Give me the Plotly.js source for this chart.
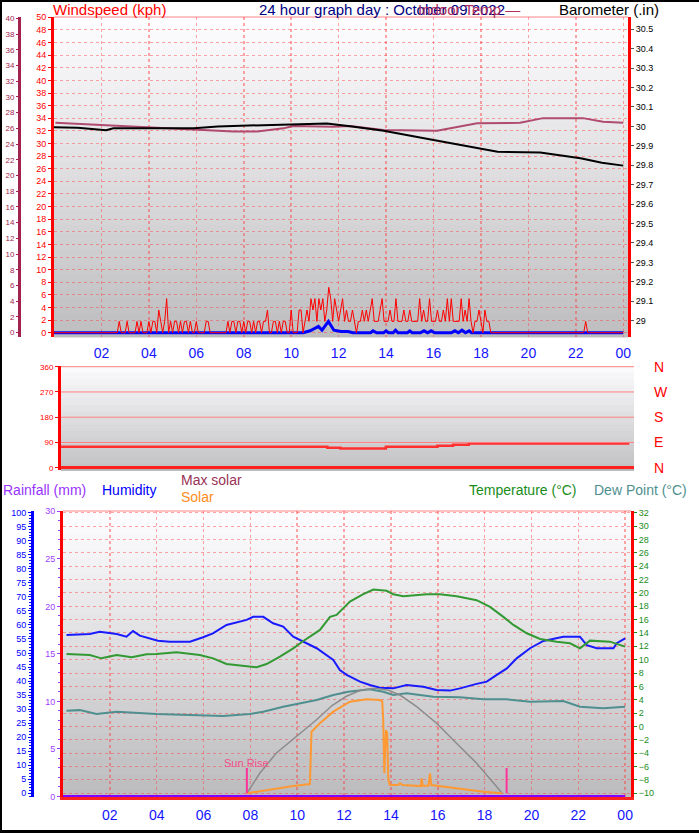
<!DOCTYPE html>
<html><head><meta charset="utf-8">
<script src="https://cdn.plot.ly/plotly-3.0.1.min.js"></script>
<style>html,body{margin:0;padding:0;background:#fff;} #chart{width:699px;height:833px;}</style>
</head><body><div id="chart"></div>
<script>
// ---------------- DATA ----------------
const hourTicks = [2,4,6,8,10,12,14,16,18,20,22,24];
const hourTickText = ['02','04','06','08','10','12','14','16','18','20','22','00'];

// Barometer (inHg)
const baroHours  = [0, 1, 2.2, 2.5, 4, 5.9, 6.9, 8.3, 9.7, 11.5, 12.4, 13.9, 16.0, 18.0, 18.7, 20.5, 22.2, 23.1, 24];
const baroValues = [29.995, 29.993, 29.98, 29.99, 29.99, 29.99, 30.0, 30.005, 30.012, 30.015, 30.002, 29.977, 29.93, 29.887, 29.87, 29.865, 29.836, 29.813, 29.798];

// Indoor temperature (outer left axis)
const indoorHours = [0.06, 1.12, 2.38, 5.62, 7.56, 8.57, 9.67, 10.09, 11.77, 12.49, 13.88, 16.15, 16.7, 17.84, 19.65, 20.62, 22.3, 23.15, 24];
const indoorTemp  = [26.7, 26.55, 26.3, 25.9, 25.6, 25.6, 26.0, 26.3, 26.2, 26.3, 25.8, 25.7, 26.0, 26.65, 26.7, 27.3, 27.3, 26.85, 26.7];

// Wind gust (kph), one value per 5 minutes from 00:00
const gustValues = [
  0,0,0,0,0,0,0,0,0,0,0,0,                        // 00h
  0,0,0,0,0,0,0,0,0,0,0,0,                        // 01h
  0,0,0,0,0,0,0,0,0,1.8,0,0,                      // 02h
  0,1.8,0,0,0,0,1.8,0,1.8,0,0,0,                  // 03h
  1.8,0,1.8,1.8,0,3.6,1.8,0,1.8,5.4,0,1.8,        // 04h
  0,1.8,1.8,0,1.8,0,1.8,1.8,0,1.8,0,0,            // 05h
  1.8,0,0,0,0,1.8,1.8,0,0,0,0,0,                  // 06h
  0,0,0,0,1.8,0,1.8,1.8,0,1.8,1.8,0,              // 07h
  1.8,0,1.8,1.8,0,1.8,0,1.8,1.8,0,1.8,1.8,        // 08h
  3.6,0,0,1.8,1.8,0,1.8,0,1.8,1.8,0,0,            // 09h
  3.6,0,0,0,3.6,3.6,0,1.8,3.6,1.8,5.4,3.6,        // 10h
  5.4,1.8,5.4,3.6,5.4,1.8,3.6,7.2,5.4,1.8,5.4,3.6,// 11h
  1.8,3.6,5.4,1.8,3.6,1.8,1.8,3.6,1.8,0,1.8,1.8,  // 12h
  3.6,1.8,3.6,1.8,3.6,5.4,1.8,1.8,1.8,3.6,5.4,1.8,// 13h
  1.8,1.8,3.6,1.8,1.8,5.4,1.8,1.8,1.8,3.6,1.8,1.8,// 14h
  3.6,1.8,1.8,1.8,1.8,5.4,1.8,3.6,1.8,1.8,5.4,1.8,// 15h
  1.8,1.8,3.6,1.8,1.8,3.6,1.8,5.4,1.8,5.4,1.8,1.8,// 16h
  1.8,1.8,5.4,1.8,3.6,1.8,5.4,1.8,0,1.8,1.8,3.6,  // 17h
  1.8,0,3.6,1.8,1.8,0,0,0,0,0,0,0,                // 18h
  0,0,0,0,0,0,0,0,0,0,0,0,                        // 19h
  0,0,0,0,0,0,0,0,0,0,0,0,                        // 20h
  0,0,0,0,0,0,0,0,0,0,0,0,                        // 21h
  0,0,0,0,0,1.8,0,0,0,0,0,0,                      // 22h
  0,0,0,0,0,0,0,0,0,0,0,0,                        // 23h
  0                                               // 24h
];
const gustHours = gustValues.map((v, i) => i / 12);

// Average wind speed (kph)
const avgHours  = [0, 10.5, 10.8, 11.15, 11.3, 11.57, 11.8, 12.1, 12.4, 12.6, 13.35, 13.45, 13.6, 13.9, 14.0, 14.1, 14.3, 14.4, 14.5, 14.9, 15.0, 15.1, 15.45, 15.6, 15.75, 15.9, 16.05, 16.75, 16.9, 17.05, 17.2, 17.35, 17.5, 17.6, 24];
const avgValues = [0, 0, 0.3, 1.0, 0.4, 1.8, 0.4, 0.2, 0.2, 0, 0, 0.3, 0, 0, 0.3, 0, 0, 0.4, 0, 0, 0.3, 0, 0, 0.3, 0, 0.3, 0, 0, 0.3, 0, 0.4, 0, 0.3, 0, 0];

// Wind direction (degrees)
const dirHours   = [0, 11.25, 11.8, 13.72, 15.9, 16.56, 17.22, 24];
const dirDegrees = [75, 71, 68, 75, 78, 82, 86, 86];
const compassVals = [0, 90, 180, 270, 360];
const compassText = ['N', 'E', 'S', 'W', 'N'];

// Humidity (%)
const humHours  = [0.15,1.14,1.57,2.29,2.71,2.99,3.28,4.05,4.56,5.42,5.98,6.4,6.98,7.41,7.84,8.12,8.55,8.97,9.4,9.83,10.26,10.83,11.54,11.82,12.11,12.25,12.68,13.1,13.53,14.1,14.67,15.38,15.95,16.52,16.95,17.66,18.09,18.52,18.95,19.37,19.94,20.51,21.36,22.07,22.36,22.79,23.5,23.64,24.0];
const humValues = [56.4,56.8,57.6,56.8,55.8,57.8,56.2,54.4,54.0,54.0,55.6,57.0,60.0,60.8,61.8,62.9,62.9,60.6,59.4,55.8,54.0,51.7,47.5,43.9,42.2,41.6,39.8,38.6,37.6,37.4,38.6,38.0,36.8,36.6,37.4,39.0,39.8,42.2,44.5,48.1,51.7,54.3,55.8,55.8,52.8,51.7,51.7,53.5,55.2];

// Temperature (°C)
const tempHours  = [0.15,1.14,1.64,2.29,2.93,3.57,3.99,4.85,5.84,6.41,6.98,7.84,8.27,8.69,9.26,9.83,10.26,10.97,11.4,11.68,12.25,12.82,13.25,13.82,14.1,14.53,15.53,16.09,16.81,17.66,18.23,18.8,19.23,19.8,20.37,21.08,21.65,22.07,22.5,23.35,24.0];
const tempValues = [10.85,10.7,10.2,10.7,10.36,10.8,10.85,11.1,10.7,10.2,9.35,9.05,8.86,9.35,10.45,11.7,12.8,14.45,16.4,16.7,18.7,19.8,20.5,20.3,19.8,19.5,19.8,19.8,19.5,18.9,17.9,16.4,15.2,13.95,13.1,12.7,12.45,11.7,12.85,12.7,11.95];

// Dew point (°C)
const dewHours  = [0.15,0.72,1.43,2.29,3.99,6.13,6.84,7.98,8.55,9.4,10.12,10.83,11.54,12.18,13.1,13.67,14.1,14.67,15.81,16.95,17.95,18.95,19.94,21.36,22.07,23.07,24.0];
const dewValues = [2.36,2.45,1.87,2.2,1.87,1.72,1.57,1.87,2.2,2.96,3.47,3.96,4.71,5.2,5.57,5.2,4.71,4.97,4.46,4.37,4.07,4.07,3.71,3.81,2.96,2.72,2.96];

// Max solar and solar (W/m²)
const maxSolarHours  = [7.85,8.4,9.1,10.0,10.8,11.5,12.1,12.7,13.3,13.9,14.4,15.1,15.95,16.8,17.66,18.5,18.75];
const maxSolarValues = [0,100,200,285,365,440,485,515,525,515,490,433,350,250,150,35,0];
const solarHours  = [7.84,8.69,9.83,10.54,10.61,10.97,11.54,12.25,12.96,13.53,13.63,13.67,13.72,13.79,13.84,13.89,13.96,14.3,14.39,14.5,15.1,15.28,15.31,15.36,15.6,15.67,15.72,16.24,16.95,17.95,18.73];
const solarValues = [0,16,36,46,308,350,408,458,470,466,460,366,100,316,300,66,41,41,50,41,36,36,75,38,38,100,41,33,20,8,0];

// Rainfall (mm)
const rainHours  = [0, 24];
const rainValues = [0, 0];

// Sun rise / sun set times (hours)
const sunTimes = [7.85, 18.94];

// ---------------- LAYOUT HELPERS ----------------
const W = 699, H = 833;
const px = x => x / W;
const py = y => 1 - y / H;
const FONT = 'Liberation Sans, Arial, sans-serif';
const gridPink = 'rgba(255,60,60,0.45)';

const shapes = [];
function gradient(x0, x1, y0, y1, c0, c1, n) {
  const h = (y1 - y0) / n;
  for (let i = 0; i < n; i++) {
    const t = i / (n - 1);
    const c = Math.round(c0 + (c1 - c0) * t);
    shapes.push({type:'rect', xref:'paper', yref:'paper', layer:'below',
      x0:px(x0), x1:px(x1), y0:py(y0 + i*h), y1:py(y0 + (i+1)*h + 0.6),
      fillcolor:`rgb(${c},${c},${c + 2})`, line:{width:0}});
  }
}
gradient(54, 628, 17, 337, 253, 190, 40);
gradient(61, 634, 366, 470, 250, 195, 16);
gradient(63, 631, 511, 797, 253, 188, 36);

// middle panel compass lines
compassVals.slice(1).forEach(v => shapes.push({type:'line', xref:'x2', yref:'y4', x0:0, x1:24.2, y0:v, y1:v,
  line:{color:'#ff8080', width:1}}));

// panel borders
shapes.push({type:'line', xref:'paper', yref:'paper', x0:px(54), x1:px(628), y0:py(17), y1:py(17), line:{color:'rgba(255,80,80,0.7)', width:1}});
shapes.push({type:'line', xref:'paper', yref:'paper', x0:px(63), x1:px(631), y0:py(511), y1:py(511), line:{color:'rgba(255,80,80,0.7)', width:1}});
shapes.push({type:'line', xref:'paper', yref:'paper', x0:px(61), x1:px(634), y0:py(470), y1:py(470), line:{color:'#b0b0b0', width:1.5}});
// black frame
shapes.push({type:'rect', xref:'paper', yref:'paper', x0:0, x1:px(2), y0:0, y1:1, fillcolor:'#000', line:{width:0}});
shapes.push({type:'rect', xref:'paper', yref:'paper', x0:0, x1:1, y0:py(2), y1:1, fillcolor:'#000', line:{width:0}});
shapes.push({type:'rect', xref:'paper', yref:'paper', x0:0, x1:1, y0:0, y1:py(830), fillcolor:'#000', line:{width:0}});
// sun rise / sun set markers
sunTimes.forEach(t => shapes.push({type:'line', xref:'x3', yref:'y8', x0:t, x1:t, y0:-10, y1:-6.2, line:{color:'#ff3399', width:2}}));

const ann = (text, x, y, color, size, anchor) => ({text, x:px(x), y:py(y), xref:'paper', yref:'paper',
  xanchor:anchor || 'left', yanchor:'middle', showarrow:false, font:{family:FONT, size, color}});
const annotations = [
  ann('Windspeed (kph)', 51, 9, '#ff0000', 15),
  ann('24 hour graph day : October 09 2022', 257, 9, '#000080', 15),
  ann('Indoor Temp —', 416, 9, '#b03060', 15),
  ann('Barometer (.in)', 557, 9, '#000000', 15),
  ann('Rainfall (mm)', 1, 490, '#9933ff', 14),
  ann('Humidity', 100, 490, '#0000ff', 14),
  ann('Max solar', 179, 480, '#993355', 14),
  ann('Solar', 179, 497, '#ff8c1a', 14),
  ann('Temperature (°C)', 467, 490, '#1a8c1a', 14),
  ann('Dew Point (°C)', 592, 490, '#4f8f8f', 14),
  {text:'Sun Rise', x:sunTimes[0], y:-5.4, xref:'x3', yref:'y8', xanchor:'center', yanchor:'middle',
   showarrow:false, font:{family:FONT, size:11, color:'#f0508a'}}
];

const smallTick = c => ({family:FONT, size:9, color:c});

const layout = {
  width: W, height: H,
  margin: {l:0, r:0, t:0, b:0},
  paper_bgcolor: '#ffffff',
  plot_bgcolor: 'rgba(0,0,0,0)',
  showlegend: false,
  hovermode: false,
  font: {family: FONT},
  // ----- top panel -----
  xaxis: {domain:[px(54), px(628)], anchor:'y', range:[0, 24.2],
    tickvals:hourTicks, ticktext:hourTickText, tickfont:{family:FONT, size:14, color:'#1414ff'},
    showgrid:true, gridcolor:gridPink, griddash:'dot', gridwidth:1.5, zeroline:false, showline:false,
    ticks:'', ticklabelstandoff:6},
  yaxis: {domain:[py(337), py(17)], anchor:'x', range:[-0.68, 50.05], tick0:0, dtick:2,
    tickfont:smallTick('#ff0000'), showline:true, linecolor:'#ff0000', linewidth:3,
    ticks:'outside', ticklen:3, tickcolor:'#ff0000', showgrid:true, gridcolor:gridPink, griddash:'dot', zeroline:false},
  yaxis2: {overlaying:'y', anchor:'free', position:px(19), side:'left', range:[-0.55, 40.17], tick0:0, dtick:2,
    tickfont:{family:FONT, size:8, color:'#a3234f'}, showline:true, linecolor:'#a3234f', linewidth:3,
    ticks:'outside', ticklen:2, tickcolor:'#a3234f', showgrid:false, zeroline:false},
  yaxis3: {overlaying:'y', anchor:'x', side:'right', range:[28.916, 30.563],
    tickvals:[29,29.1,29.2,29.3,29.4,29.5,29.6,29.7,29.8,29.9,30,30.1,30.2,30.3,30.4,30.5],
    ticktext:['29','29.1','29.2','29.3','29.4','29.5','29.6','29.7','29.8','29.9','30','30.1','30.2','30.3','30.4','30.5'],
    tickfont:smallTick('#000000'), showline:true, linecolor:'#ff0000', linewidth:3,
    ticks:'outside', ticklen:3, tickcolor:'#555', showgrid:false, zeroline:false},
  // ----- middle panel -----
  xaxis2: {domain:[px(61), px(634)], anchor:'y4', range:[0, 24.2], showticklabels:false, showgrid:false,
    zeroline:false, ticks:'', showline:false},
  yaxis4: {domain:[py(470), py(366)], anchor:'x2', range:[-8.2, 362.5], tickvals:compassVals,
    tickfont:{family:FONT, size:8, color:'#ff0000'}, showline:true, linecolor:'#ff0000', linewidth:3,
    ticks:'outside', ticklen:3, tickcolor:'#ff0000', showgrid:false,
    zeroline:true, zerolinecolor:'#ff2020', zerolinewidth:3},
  yaxis5: {overlaying:'y4', anchor:'x2', side:'right', range:[-8.2, 362.5], tickvals:compassVals, ticktext:compassText,
    tickfont:{family:FONT, size:14, color:'#ff0000'}, showline:false, showgrid:false, zeroline:false,
    ticks:'', ticklabelstandoff:19},
  // ----- bottom panel -----
  xaxis3: {domain:[px(63), px(631)], anchor:'y6', range:[0, 24.25],
    tickvals:hourTicks, ticktext:hourTickText, tickfont:{family:FONT, size:14, color:'#1414ff'},
    showgrid:true, gridcolor:gridPink, griddash:'dot', gridwidth:1.5, zeroline:false,
    showline:true, linecolor:'#ff2020', linewidth:3, ticks:'', ticklabelstandoff:3},
  yaxis6: {domain:[py(797), py(511)], anchor:'x3', range:[-0.064, 30.036], tick0:0, dtick:5,
    tickfont:smallTick('#a040ff'), showline:true, linecolor:'#ff0000', linewidth:3,
    ticks:'outside', ticklen:3, tickcolor:'#a040ff',
    minor:{dtick:1, ticks:'outside', ticklen:2, tickcolor:'#a040ff', showgrid:false},
    showgrid:false, zeroline:false},
  yaxis7: {overlaying:'y6', anchor:'free', position:px(32), side:'left', range:[-1.31, 100.6], tick0:0, dtick:5,
    tickfont:smallTick('#0000ff'), showline:true, linecolor:'#0000ff', linewidth:3,
    ticks:'outside', ticklen:3, tickcolor:'#0000ff',
    minor:{dtick:1, ticks:'outside', ticklen:2, tickcolor:'#0000ff', showgrid:false},
    showgrid:false, zeroline:false},
  yaxis8: {overlaying:'y6', anchor:'x3', side:'right', range:[-10.55, 32.25], tick0:0, dtick:2,
    tickfont:smallTick('#1a8c1a'), showline:true, linecolor:'#ff0000', linewidth:3,
    ticks:'outside', ticklen:3, tickcolor:'#1a8c1a', showgrid:true, gridcolor:gridPink, griddash:'dot', zeroline:false},
  yaxis9: {overlaying:'y6', anchor:'x3', range:[-18.5, 1411], visible:false},
  shapes, annotations
};

const line = (x, y, xa, ya, color, width, extra) => Object.assign({type:'scatter', mode:'lines', x, y,
  xaxis:xa, yaxis:ya, line:{color, width}, hoverinfo:'skip'}, extra || {});

const traces = [
  line(avgHours, avgValues, 'x', 'y', '#0000ff', 3),
  line(gustHours, gustValues, 'x', 'y', '#ff0000', 1),
  line(baroHours, baroValues, 'x', 'y3', '#000000', 2),
  line(indoorHours, indoorTemp, 'x', 'y2', '#b04a6e', 2),
  line(dirHours, dirDegrees, 'x2', 'y4', '#ff3030', 2.5, {line:{color:'#ff3030', width:2.5, shape:'hv'}}),
  line([], [], 'x2', 'y5', '#ff0000', 1),
  line(rainHours, rainValues, 'x3', 'y6', '#8000ff', 3),
  line(maxSolarHours, maxSolarValues, 'x3', 'y9', '#8c8c8c', 1.5),
  line(solarHours, solarValues, 'x3', 'y9', '#ff9933', 2),
  line(dewHours, dewValues, 'x3', 'y8', '#4f8f8f', 2),
  line(tempHours, tempValues, 'x3', 'y8', '#339933', 2),
  line(humHours, humValues, 'x3', 'y7', '#1a1aff', 2)
];

Plotly.newPlot('chart', traces, layout, {staticPlot:true, displayModeBar:false});
</script>
</body></html>
